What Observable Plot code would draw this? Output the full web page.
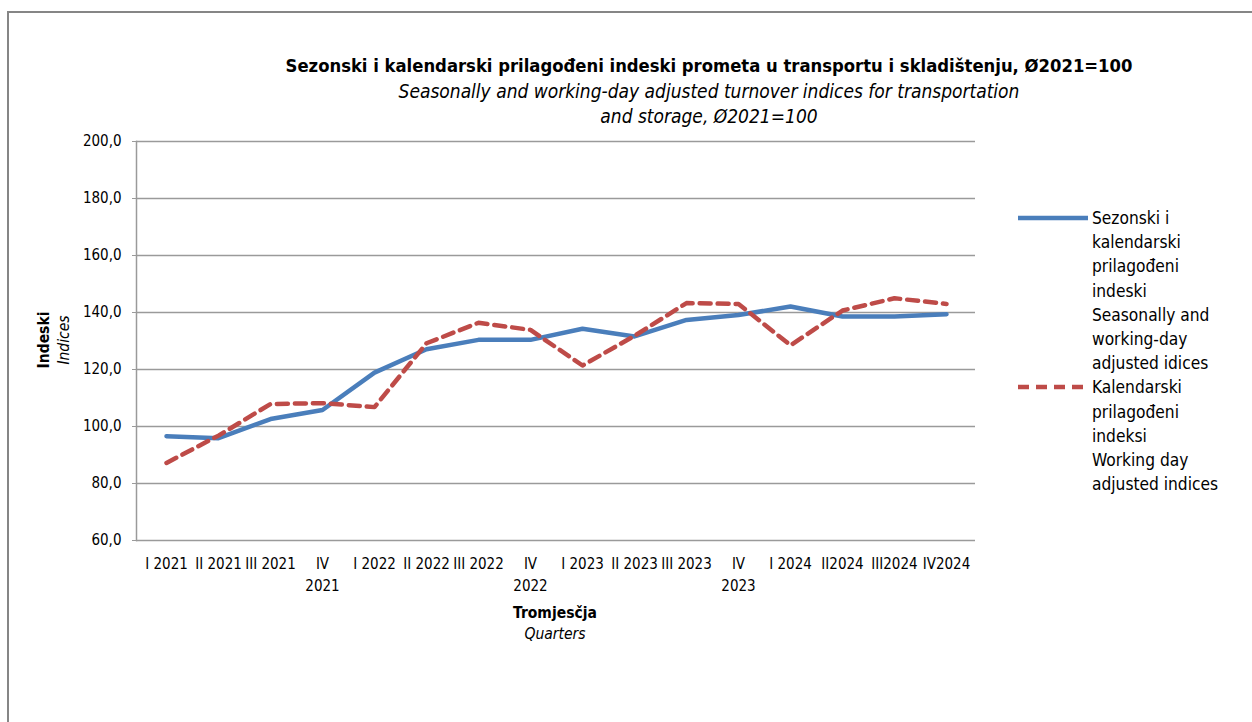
<!DOCTYPE html>
<html><head><meta charset="utf-8">
<script src="https://cdn.jsdelivr.net/npm/d3@7"></script>
<script src="https://cdn.jsdelivr.net/npm/@observablehq/plot@0.6"></script>
<style>
body{margin:0;background:#fff;font-family:"Liberation Sans Narrow","Arial Narrow","DejaVu Sans Condensed",sans-serif;color:#000;overflow:hidden;}
#frame{position:absolute;left:7px;top:11px;width:1400px;height:900px;border-left:2px solid #868686;border-top:2px solid #868686;}
.t{position:absolute;white-space:nowrap;}
#title{left:709px;top:55px;transform:translateX(-50%);font-weight:bold;font-size:18.3px;}
.sub{left:709px;transform:translateX(-50%);font-style:italic;font-size:19px;}
#chart{position:absolute;left:0;top:125px;}
#legend{position:absolute;left:1016px;top:206px;font-size:17.2px;line-height:24.2px;}
.item{display:flex;align-items:flex-start;}
.item svg{flex:none;margin-top:4px;}
.ax{font-size:15.5px;}
</style></head>
<body>
<div id="frame"></div>
<div class="t" id="title">Sezonski i kalendarski prilagođeni indeski prometa u transportu i skladištenju, Ø2021=100</div>
<div class="t sub" style="top:80px">Seasonally and working-day adjusted turnover indices for transportation</div>
<div class="t sub" style="top:105px">and storage, Ø2021=100</div>
<div class="t ax" style="left:44px;top:340px;transform:translate(-50%,-50%) rotate(-90deg);font-weight:bold;">Indeski</div>
<div class="t ax" style="left:64px;top:340px;transform:translate(-50%,-50%) rotate(-90deg);font-style:italic;">Indices</div>
<div class="t ax" style="left:555px;top:604px;transform:translateX(-50%);font-weight:bold;">Tromjesčja</div>
<div class="t ax" style="left:555px;top:625px;transform:translateX(-50%);font-style:italic;">Quarters</div>
<div id="chart"></div>
<div id="legend"></div>
<script>
const quarters = ["I 2021","II 2021","III 2021","IV 2021","I 2022","II 2022","III 2022","IV 2022","I 2023","II 2023","III 2023","IV 2023","I 2024","II2024","III2024","IV2024"];
const quarterLabels = ["I 2021","II 2021","III 2021","IV\n2021","I 2022","II 2022","III 2022","IV\n2022","I 2023","II 2023","III 2023","IV\n2023","I 2024","II2024","III2024","IV2024"];
const seasonallyAdjusted = [96.6, 95.9, 102.6, 105.8, 118.9, 127.1, 130.4, 130.4, 134.3, 131.6, 137.4, 139.1, 142.1, 138.6, 138.6, 139.4];
const workingDayAdjusted = [87.2, 96.8, 107.9, 108.2, 106.8, 129.2, 136.4, 133.9, 121.4, 131.8, 143.3, 143.0, 128.5, 140.7, 145.0, 143.0];
const seriesNames = ["Sezonski i kalendarski prilagođeni indeski", "Kalendarski prilagođeni indeksi"];
const legendLines = [
  ["Sezonski i","kalendarski","prilagođeni","indeski","Seasonally and","working-day","adjusted idices"],
  ["Kalendarski","prilagođeni","indeksi","Working day","adjusted indices"]
];
const yTicks = [60, 80, 100, 120, 140, 160, 180, 200];

const colors = ["#4A7EBB", "#BE4B48"];
const dashes = [null, "11,7"];

const rows = [];
[seasonallyAdjusted, workingDayAdjusted].forEach((vals, s) => {
  vals.forEach((v, i) => rows.push({q: quarters[i], v, s: seriesNames[s]}));
});

const font = '"Liberation Sans Narrow","Arial Narrow","DejaVu Sans Condensed",sans-serif';
const chart = Plot.plot({
  width: 1000, height: 530,
  marginLeft: 136, marginRight: 25, marginTop: 16, marginBottom: 115,
  style: {fontFamily: font, fontSize: "15px", color: "#000", background: "transparent", overflow: "visible"},
  x: {type: "point", domain: quarters, padding: 0.5, label: null},
  y: {domain: [60, 200], label: null},
  marks: [
    Plot.ruleY(yTicks, {stroke: "#9a9a9a", strokeWidth: 1.5}),
    Plot.frame({anchor: "left", stroke: "#9a9a9a", strokeWidth: 1.5}),
    Plot.axisY({ticks: yTicks, tickFormat: d => d.toFixed(1).replace(".", ","), tickSize: 4, tickPadding: 11, stroke: "#9a9a9a", fontSize: 15}),
    Plot.axisX({tickSize: 0, tickPadding: 13, lineHeight: 1.45, fontSize: 15, tickFormat: d => quarterLabels[quarters.indexOf(d)]}),
    Plot.lineY(rows.filter(r => r.s === seriesNames[0]), {x: "q", y: "v", stroke: colors[0], strokeWidth: 4.5}),
    Plot.lineY(rows.filter(r => r.s === seriesNames[1]), {x: "q", y: "v", stroke: colors[1], strokeWidth: 4.5, strokeDasharray: dashes[1]})
  ]
});
document.getElementById("chart").appendChild(chart);

const legend = document.getElementById("legend");
legendLines.forEach((lines, s) => {
  const item = document.createElement("div");
  item.className = "item";
  const sw = `<svg width="76" height="16"><line x1="2" x2="72" y1="8" y2="8" stroke="${colors[s]}" stroke-width="4.5" ${dashes[s] ? `stroke-dasharray="11,7"` : ""}/></svg>`;
  item.innerHTML = sw + `<div>${lines.join("<br>")}</div>`;
  legend.appendChild(item);
});
</script>
</body></html>
